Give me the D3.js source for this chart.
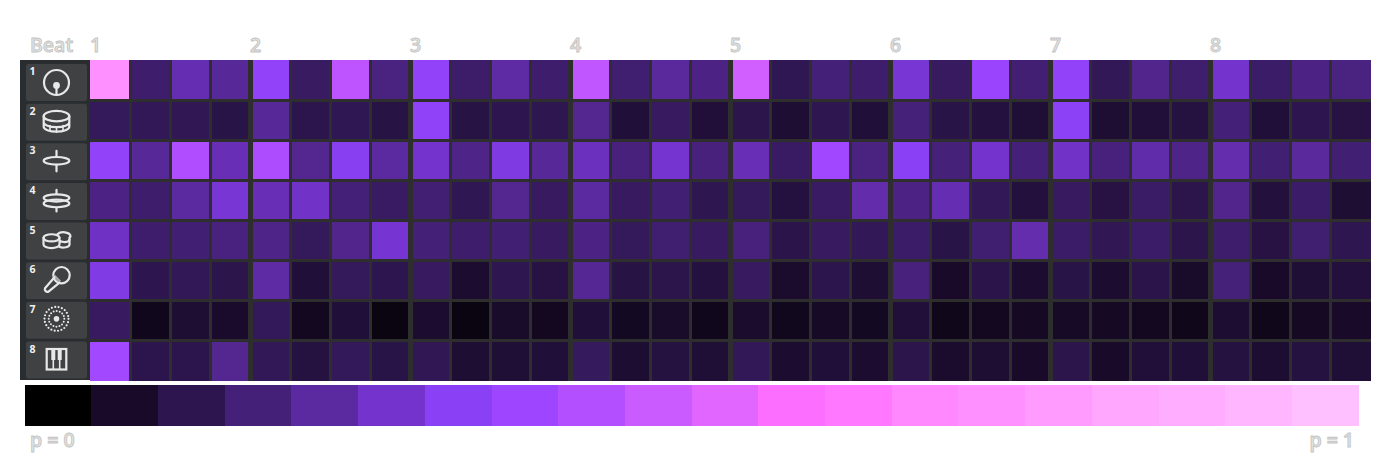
<!DOCTYPE html>
<html>
<head>
<meta charset="utf-8">
<script src="https://cdn.jsdelivr.net/npm/d3@7/dist/d3.min.js"></script>
<style>
html,body{margin:0;padding:0;background:#fff;overflow:hidden}
svg{display:block}
text{font-family:"Open Sans",sans-serif}
</style>
</head>
<body>
<svg id="c" width="1390" height="460"></svg>
<script>
// colour-bar swatches, p = 0 .. p = 1
const rampColors = ["#000000","#180a28","#2d164f","#452078","#5c2aa0","#7333cc","#8a40f5","#9e46ff","#b44fff","#ca5cff","#e066ff","#fb6eff","#ff78ff","#ff88ff","#ff90ff","#ff9bff","#ffa6ff","#ffaeff","#ffb6ff","#ffc0ff"];
const beatLabels = ["1","2","3","4","5","6","7","8"];
const trackLabels = ["1","2","3","4","5","6","7","8"];
// cell values, in colour-bar steps (0 = p 0, 19 = p 1)
const track1 = [14,2.7,4.4,3.8,6.4,2.45,8.4,3.2, 6.4,2.65,4.1,2.7,8.5,2.8,3.9,3.3, 9.3,2.1,3,2.7,5.2,2.4,6.8,2.9, 6.4,2.2,3.5,2.75,5,2.6,3.3,3.2];
const track2 = [2.3,2.2,2.15,1.8,3.8,1.95,2.1,1.75, 6.3,1.75,2,2.05,3.6,1.4,2.4,1.45, 1.9,1.3,2.05,1.4,3.05,1.8,1.6,1.35, 6.1,1.3,1.45,1.65,3,1.4,2,1.7];
const track3 = [6.4,3.8,7.8,4.5,7.7,3.6,5.9,4, 5,3.4,5.5,3.8,4.7,3.1,5.1,3.1, 4.5,2.5,7.1,3.2,6,3.05,5,3, 4.9,3.1,4.2,3.4,4.3,2.85,3.9,2.85];
const track4 = [3.3,2.7,4,5.2,4.5,4.9,3,2.5, 2.9,2.1,3.6,2.4,4,2.4,2.85,2.05, 2.3,1.6,2.5,4.25,3.3,4.4,2.2,1.5, 2.4,1.7,2.55,1.9,3.5,1.5,2.6,1.3];
const track5 = [4.8,2.7,2.85,3.15,3.4,2.3,3.5,5.15, 2.95,2.7,2.85,2.4,3.3,2.3,2.8,2.4, 3.1,1.85,2.4,2.2,2.6,1.8,2.8,4.3, 2.6,2.15,2.6,1.9,2.7,1.7,2.8,2.05];
const track6 = [5.6,2,2.2,1.9,4.1,1.4,2.3,2, 2.4,1.2,2.05,1.7,3.7,1.75,1.9,1.6, 2.4,1.15,1.95,1.3,3.1,1,1.85,1.2, 1.8,1.2,1.85,1.05,3.05,1,1.35,1.5];
const track7 = [2.4,0.7,1.3,1.1,2.25,0.8,1.4,0.45, 1.2,0.45,1.05,0.8,1.4,0.85,1.05,0.7, 1.15,0.75,0.95,0.85,1.45,0.65,0.8,0.9, 0.95,0.9,0.8,0.65,1.25,0.65,0.9,1];
const track8 = [7.2,1.95,1.95,3.6,2.2,1.65,2.25,1.8, 2.15,1.3,1.35,1.4,2.35,1.25,1.65,1.35, 2.2,1.2,1.4,1.2,1.9,1.15,1.3,1, 1.9,1,1.45,1.4,1.65,1.25,1.65,1.35];
const tracks = [track1,track2,track3,track4,track5,track6,track7,track8];

const svg = d3.select("#c");
const nCols = track1.length, nRows = tracks.length;
const x = d3.scaleLinear().domain([0,nCols]).range([90,1370]);
const y = d3.scaleLinear().domain([0,nRows]).range([60,380]);
const color = d3.scaleLinear().domain(d3.range(rampColors.length)).range(rampColors).clamp(true);

function styleLabel(sel){
  return sel.attr("font-size",19.5).attr("font-weight",600)
    .attr("fill","#e4e4e4").attr("stroke","#c4c4c4").attr("stroke-width",0.9);
}
function label(t,px,py,anchor){
  return styleLabel(svg.append("text").attr("x",px).attr("y",py).attr("text-anchor",anchor||"start")).text(t);
}
label("Beat",30,52);
styleLabel(svg.append("g").selectAll("text").data(beatLabels).join("text")
  .attr("x",(d,i)=>x(i*4)).attr("y",52)).text(d=>d);

// left panel and grid background
svg.append("rect").attr("x",20).attr("y",y(0)).attr("width",70).attr("height",y(nRows)-y(0)).attr("fill","#2a2d2f");
svg.append("rect").attr("x",x(0)).attr("y",y(0)).attr("width",x(nCols)+1-x(0)).attr("height",y(nRows)+1-y(0)).attr("fill","#2e2e2e");

// cells: the 3px lines sit on every step, 5px lines on every beat
function cellLeft(c){ return c===0 ? x(0) : x(c)+(c%4===0?3:2); }
function cellRight(c){ return c===nCols-1 ? x(nCols)+1 : x(c+1)-((c+1)%4===0?2:1); }
function cellTop(r){ return r===0 ? y(0) : y(r)+2; }
function cellBottom(r){ return r===nRows-1 ? y(nRows)+1 : y(r+1)-1; }
const grid = svg.append("g");
tracks.forEach((vals,r)=>{
  grid.append("g").selectAll("rect").data(vals).join("rect")
    .attr("x",(d,c)=>cellLeft(c)).attr("y",cellTop(r))
    .attr("width",(d,c)=>cellRight(c)-cellLeft(c))
    .attr("height",cellBottom(r)-cellTop(r))
    .attr("fill",d=>color(d));
});

// track buttons
const btnTop = d3.scaleLinear().domain([0,7]).range([64,341.5]);
const ink = "#e8e8e8";
const icons = [
  g=>{ g.append("circle").attr("r",12.5).attr("fill","none");
       g.append("circle").attr("cy",3).attr("r",3.4).attr("fill",ink).attr("stroke","none");
       g.append("path").attr("d","M0 3V12"); },
  g=>{ g.append("ellipse").attr("cy",-6).attr("rx",12.8).attr("ry",5.2).attr("fill","none");
       g.append("path").attr("fill","none").attr("d","M-12.8 -6V4.5A12.8 5 0 0 0 12.8 4.5V-6M-12.8 0A12.8 5 0 0 0 12.8 0");
       g.append("path").attr("stroke-width",1.6).attr("d","M-6.5 3.5V8.5M0 5V10M6.5 3.5V8.5"); },
  g=>{ g.append("ellipse").attr("cy",-1).attr("rx",12.8).attr("ry",3.8).attr("fill","none");
       g.append("path").attr("d","M0 -11V-5M0 3V9.5"); },
  g=>{ g.append("ellipse").attr("cy",-3.5).attr("rx",12.8).attr("ry",3.6).attr("fill","none");
       g.append("ellipse").attr("cy",2).attr("rx",12.8).attr("ry",3.8).attr("fill","none");
       g.append("path").attr("d","M0 -11.5V-7.5M0 6.5V10"); },
  g=>{ g.append("path").attr("fill","none").attr("d","M1 -7A6.5 3.2 0 0 1 13 -3.5V3.5A6.5 3.2 0 0 1 3 6");
       g.append("ellipse").attr("cx",-5).attr("cy",-3.2).attr("rx",8).attr("ry",3.6).attr("fill","none");
       g.append("path").attr("fill","none").attr("d","M-13 -3.2V3.5A8 3.6 0 0 0 3 3.5V-3.2M3 -1.5A5 2.5 0 0 0 13 -1.5"); },
  g=>{ g.append("circle").attr("cx",5).attr("cy",-5.5).attr("r",8.2).attr("fill","none");
       g.append("path").attr("d","M-2.5 -5L3.5 1").attr("stroke","#a5a5a5").attr("stroke-width",3).attr("stroke-linecap","butt");
       g.append("path").attr("fill","none").attr("stroke-linejoin","round").attr("d","M-2 -3.5L-11.5 7.5A2.7 2.7 0 0 0 -8 11L3 2"); },
  g=>{ g.append("circle").attr("cy",-1.5).attr("r",2.8).attr("fill",ink).attr("stroke","none");
       g.append("circle").attr("cy",-1.5).attr("r",7.8).attr("fill","none").attr("stroke-width",2).attr("stroke-dasharray","0 3.06");
       g.append("circle").attr("cy",-1.5).attr("r",12).attr("fill","none").attr("stroke-width",2.2).attr("stroke-dasharray","0 3.43"); },
  g=>{ g.append("rect").attr("x",-9.8).attr("y",-11).attr("width",19.6).attr("height",20.5).attr("fill","none");
       g.append("path").attr("stroke-width",1.6).attr("d","M-3.2 -2V9M3.2 -2V9");
       g.append("path").attr("stroke-width",4).attr("stroke-linecap","butt").attr("d","M-3.2 -11V0M3.2 -11V0"); }
];
trackLabels.forEach((t,r)=>{
  const top = btnTop(r);
  svg.append("rect").attr("x",26).attr("y",top).attr("width",61).attr("height",37)
    .attr("rx",2.5).attr("fill","#3f4143");
  svg.append("text").attr("x",29.5).attr("y",top+11).attr("font-size",10.5).attr("font-weight",700)
    .attr("fill","#f0f0f0").text(t);
  const g = svg.append("g").attr("transform",`translate(56.5,${top+18.5})`)
    .attr("stroke",ink).attr("stroke-width",2.2).attr("stroke-linecap","round");
  icons[r](g);
});

// colour bar
const bar = d3.scaleBand().domain(d3.range(rampColors.length)).range([24.6,1358.6]);
svg.append("g").selectAll("rect").data(rampColors).join("rect")
  .attr("x",(d,i)=>bar(i)).attr("y",385).attr("width",bar.bandwidth()+0.5).attr("height",41)
  .attr("fill",d=>d).attr("shape-rendering","crispEdges");
label("p = 0",30,447);
label("p = 1",1354,447,"end");
</script>
</body>
</html>
